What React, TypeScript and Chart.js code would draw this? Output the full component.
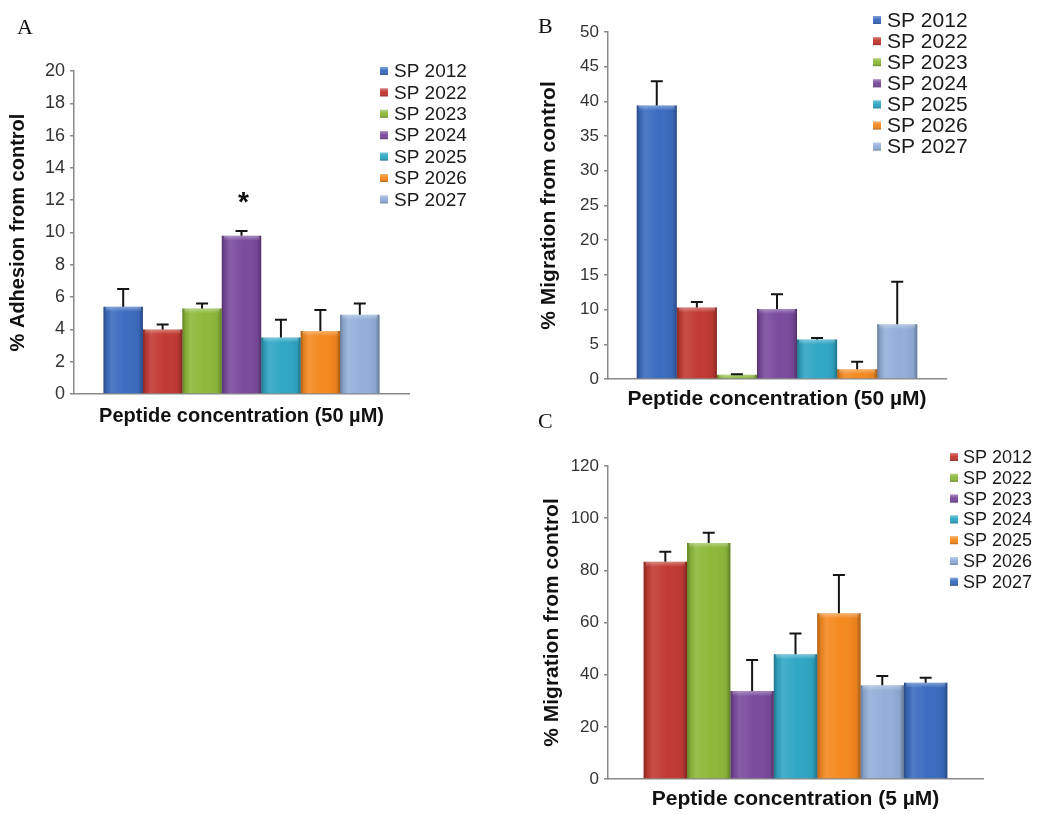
import React, { useEffect, useRef } from "react";
import { Chart, registerables } from "chart.js";

Chart.register(...registerables);

// ---------- data ----------
const seriesLabels = ["SP 2012", "SP 2022", "SP 2023", "SP 2024", "SP 2025", "SP 2026", "SP 2027"];

const categoryA = ["Peptide concentration (50 µM)"];
const adhesionA = [5.4, 4.0, 5.3, 9.8, 3.5, 3.9, 4.9];
const adhesionErrA = [1.1, 0.3, 0.3, 0.3, 1.1, 1.3, 0.7];
const significanceA = ["", "", "", "*", "", "", ""];

const categoryB = ["Peptide concentration (50 µM)"];
const migrationB = [39.4, 10.3, 0.6, 10.1, 5.7, 1.4, 7.9];
const migrationErrB = [3.5, 0.8, 0.1, 2.1, 0.2, 1.1, 6.1];

const categoryC = ["Peptide concentration (5 µM)"];
const migrationC = [83.3, 90.5, 33.7, 47.8, 63.5, 35.9, 36.9];
const migrationErrC = [3.8, 3.9, 11.9, 8.0, 14.7, 3.6, 1.9];

const yMaxA = 20;
const yStepA = 2;
const yMaxB = 50;
const yStepB = 5;
const yMaxC = 120;
const yStepC = 20;

const yTitleA = "% Adhesion from control";
const yTitleB = "% Migration from control";
const yTitleC = "% Migration from control";

// ---------- styles ----------
const BLUE = "#3B6CC0";
const RED = "#C23A32";
const GREEN = "#8DB93A";
const PURPLE = "#7A4B9E";
const CYAN = "#2FA7C5";
const ORANGE = "#F5891F";
const LIGHTBLUE = "#93AFD9";

const colorsAB = [BLUE, RED, GREEN, PURPLE, CYAN, ORANGE, LIGHTBLUE];
const colorsC = [RED, GREEN, PURPLE, CYAN, ORANGE, LIGHTBLUE, BLUE];

const FONT = '"Liberation Sans", Arial, sans-serif';
const AXIS_GRAY = "#8a8a8a";

const bevelPlugin = {
  id: "bevel",
  afterDatasetsDraw(chart: any) {
    const ctx = chart.ctx;
    ctx.save();
    chart.data.datasets.forEach((_: any, i: number) => {
      const meta = chart.getDatasetMeta(i);
      meta.data.forEach((bar: any) => {
        const w = bar.width;
        const x0 = bar.x - w / 2;
        const top = Math.min(bar.y, bar.base);
        const h = Math.abs(bar.base - bar.y);
        if (h <= 0) return;
        const g = ctx.createLinearGradient(x0, 0, x0 + w, 0);
        g.addColorStop(0, "rgba(0,0,0,0.30)");
        g.addColorStop(0.08, "rgba(0,0,0,0.08)");
        g.addColorStop(0.2, "rgba(255,255,255,0.10)");
        g.addColorStop(0.55, "rgba(255,255,255,0.0)");
        g.addColorStop(0.9, "rgba(0,0,0,0.06)");
        g.addColorStop(1, "rgba(0,0,0,0.32)");
        ctx.fillStyle = g;
        ctx.fillRect(x0, top, w, h);
        const bh = Math.min(5, h);
        const g2 = ctx.createLinearGradient(0, top, 0, top + bh);
        g2.addColorStop(0, "rgba(255,255,255,0.35)");
        g2.addColorStop(1, "rgba(255,255,255,0.0)");
        ctx.fillStyle = g2;
        ctx.fillRect(x0 + 2, top, w - 4, bh);
      });
    });
    ctx.restore();
  },
};

const errorBarPlugin = {
  id: "errorBars",
  afterDatasetsDraw(chart: any, _args: any, opts: any) {
    const errs: number[] = opts.errors || [];
    const marks: string[] = opts.marks || [];
    const ctx = chart.ctx;
    const yScale = chart.scales.y;
    ctx.save();
    ctx.strokeStyle = "#151515";
    ctx.lineWidth = 2;
    chart.data.datasets.forEach((ds: any, i: number) => {
      const meta = chart.getDatasetMeta(i);
      const bar: any = meta.data[0];
      if (!bar) return;
      const v = ds.data[0];
      const yTop = yScale.getPixelForValue(v + errs[i]);
      ctx.beginPath();
      ctx.moveTo(bar.x, bar.y);
      ctx.lineTo(bar.x, yTop);
      ctx.moveTo(bar.x - 6, yTop);
      ctx.lineTo(bar.x + 6, yTop);
      ctx.stroke();
      if (marks[i]) {
        ctx.fillStyle = "#111";
        ctx.font = `bold 28px ${FONT}`;
        ctx.textAlign = "center";
        ctx.textBaseline = "alphabetic";
        ctx.fillText(marks[i], bar.x + 2, yTop - 20);
      }
    });
    ctx.restore();
  },
};

const sideLegendPlugin = {
  id: "sideLegend",
  afterDraw(chart: any, _args: any, opts: any) {
    const ctx = chart.ctx;
    ctx.save();
    ctx.font = `${opts.fontSize}px ${FONT}`;
    ctx.textBaseline = "middle";
    ctx.textAlign = "left";
    chart.data.datasets.forEach((ds: any, i: number) => {
      const y = opts.y0 + i * opts.dy;
      const s = 8;
      ctx.fillStyle = ds.backgroundColor;
      ctx.fillRect(opts.sx, y - s / 2, s, s);
      const g = ctx.createLinearGradient(0, y - s / 2, 0, y + s / 2);
      g.addColorStop(0, "rgba(255,255,255,0.35)");
      g.addColorStop(0.5, "rgba(255,255,255,0.0)");
      g.addColorStop(1, "rgba(0,0,0,0.25)");
      ctx.fillStyle = g;
      ctx.fillRect(opts.sx, y - s / 2, s, s);
      ctx.fillStyle = "#1a1a1a";
      ctx.fillText(ds.label, opts.tx, y + 1);
    });
    ctx.restore();
  },
};

type PanelProps = {
  left: number;
  top: number;
  width: number;
  height: number;
  categories: string[];
  values: number[];
  errors: number[];
  marks?: string[];
  colors: string[];
  yMax: number;
  yStep: number;
  yTitle: string;
  pad: { left: number; top: number; right: number; bottom: number };
  yWidth: number;
  xHeight: number;
  catPct: number;
  tickSize: number;
  titleSize: number;
  xTitlePadBottom: number;
  legend: { sx: number; tx: number; y0: number; dy: number; fontSize: number };
};

function Panel(p: PanelProps) {
  const ref = useRef<HTMLCanvasElement | null>(null);
  useEffect(() => {
    if (!ref.current) return;
    const chart = new Chart(ref.current, {
      type: "bar",
      data: {
        labels: p.categories,
        datasets: seriesLabels.map((label, i) => ({
          label,
          data: [p.values[i]],
          backgroundColor: p.colors[i],
          borderWidth: 0,
          barPercentage: 1,
          categoryPercentage: p.catPct,
        })),
      },
      options: {
        animation: false,
        responsive: false,
        maintainAspectRatio: false,
        devicePixelRatio: 1,
        layout: { padding: p.pad },
        plugins: {
          legend: { display: false },
          tooltip: { enabled: false },
          errorBars: { errors: p.errors, marks: p.marks || [] },
          sideLegend: p.legend,
        } as any,
        scales: {
          x: {
            grid: { display: false },
            border: { display: true, color: AXIS_GRAY, width: 1.5 },
            ticks: { display: false },
            title: {
              display: true,
              text: p.categories[0],
              color: "#111",
              font: { family: FONT, size: p.titleSize, weight: "bold" },
              padding: { top: 4, bottom: p.xTitlePadBottom },
            },
            afterFit: (s: any) => {
              s.height = p.xHeight;
            },
          },
          y: {
            min: 0,
            max: p.yMax,
            ticks: {
              stepSize: p.yStep,
              color: "#333",
              padding: 5,
              font: { family: FONT, size: p.tickSize },
            },
            grid: {
              drawOnChartArea: false,
              drawTicks: true,
              tickLength: 4,
              color: AXIS_GRAY,
              lineWidth: 1.5,
            },
            border: { display: true, color: AXIS_GRAY, width: 1.5 },
            title: {
              display: true,
              text: p.yTitle,
              color: "#111",
              font: { family: FONT, size: p.titleSize, weight: "bold" },
              padding: { top: 4, bottom: 4 },
            },
            afterFit: (s: any) => {
              s.width = p.yWidth;
            },
          },
        },
      } as any,
      plugins: [bevelPlugin, errorBarPlugin, sideLegendPlugin],
    });
    return () => chart.destroy();
  }, []);
  return (
    <canvas
      ref={ref}
      width={p.width}
      height={p.height}
      style={{ position: "absolute", left: p.left, top: p.top, width: p.width, height: p.height }}
    />
  );
}

const letterStyle: React.CSSProperties = {
  position: "absolute",
  fontFamily: '"Liberation Serif", "Times New Roman", serif',
  fontSize: 22,
  lineHeight: "22px",
  color: "#111",
};

export default function App() {
  return (
    <div style={{ position: "absolute", left: 0, top: 0, width: 1050, height: 814, background: "#fff", overflow: "hidden" }}>
      <Panel
        left={0}
        top={0}
        width={480}
        height={440}
        categories={categoryA}
        values={adhesionA}
        errors={adhesionErrA}
        marks={significanceA}
        colors={colorsAB}
        yMax={yMaxA}
        yStep={yStepA}
        yTitle={yTitleA}
        pad={{ left: 2, top: 71, right: 71, bottom: 8 }}
        yWidth={72}
        xHeight={38}
        catPct={0.824}
        tickSize={18}
        titleSize={20}
        xTitlePadBottom={4}
        legend={{ sx: 380, tx: 394, y0: 71, dy: 21.4, fontSize: 19 }}
      />
      <Panel
        left={500}
        top={0}
        width={550}
        height={420}
        categories={categoryB}
        values={migrationB}
        errors={migrationErrB}
        colors={colorsAB}
        yMax={yMaxB}
        yStep={yStepB}
        yTitle={yTitleB}
        pad={{ left: 33, top: 32, right: 104, bottom: 4 }}
        yWidth={75}
        xHeight={37}
        catPct={0.83}
        tickSize={17}
        titleSize={21}
        xTitlePadBottom={4}
        legend={{ sx: 373, tx: 387, y0: 20, dy: 21.1, fontSize: 21 }}
      />
      <Panel
        left={500}
        top={420}
        width={550}
        height={394}
        categories={categoryC}
        values={migrationC}
        errors={migrationErrC}
        colors={colorsC}
        yMax={yMaxC}
        yStep={yStepC}
        yTitle={yTitleC}
        pad={{ left: 36, top: 46, right: 67, bottom: 2 }}
        yWidth={72}
        xHeight={33}
        catPct={0.81}
        tickSize={17}
        titleSize={21}
        xTitlePadBottom={0}
        legend={{ sx: 450, tx: 463, y0: 37, dy: 20.8, fontSize: 18 }}
      />
      <div style={{ ...letterStyle, left: 17, top: 16 }}>A</div>
      <div style={{ ...letterStyle, left: 538, top: 15 }}>B</div>
      <div style={{ ...letterStyle, left: 538, top: 410 }}>C</div>
    </div>
  );
}
